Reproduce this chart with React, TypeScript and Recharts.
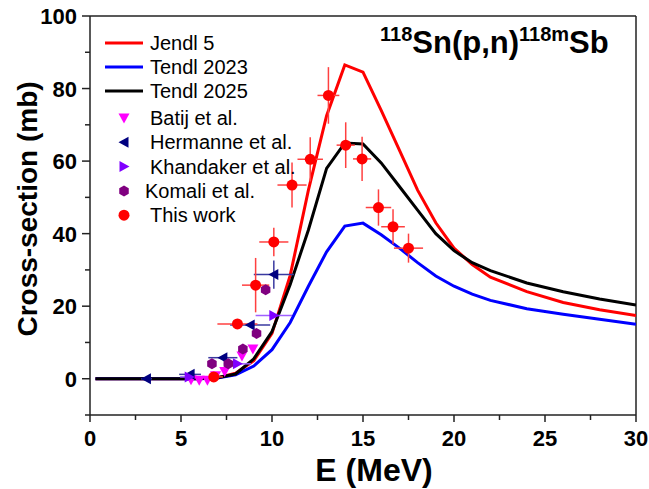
import React from "react";
import { ComposedChart, Line, Scatter, XAxis, YAxis, ErrorBar, ReferenceLine, Label } from "recharts";

const FONT = '"Liberation Sans", Arial, Helvetica, sans-serif';

// evaluated excitation functions (MeV -> mb)
const modelEnergy = [0.3, 1, 2, 3, 4, 5, 6, 7, 8, 9, 10, 11, 12, 13, 14, 15, 16, 17, 18, 19, 20, 21, 22, 24, 26, 28, 30];
const jendl5 = [0, 0, 0, 0, 0, 0, 0.05, 0.3, 1.5, 5, 12.5, 28.5, 52, 72.5, 86.5, 84.5, 74, 63, 52, 43, 36, 31.5, 28, 24, 21, 19, 17.4];
const tendl2023 = [0, 0, 0, 0, 0, 0, 0, 0.2, 1.1, 3.5, 8, 15.5, 25.5, 35, 42.1, 42.9, 39.7, 36, 32, 28.3, 25.5, 23.3, 21.6, 19.3, 17.8, 16.4, 15];
const tendl2025 = [0, 0, 0, 0, 0, 0, 0, 0.3, 1.3, 5.5, 13, 26, 41, 58, 65, 64.7, 59.5, 53, 46.5, 40, 35.3, 32, 29.8, 26.4, 24, 22, 20.3];

// experimental data
const batijE = [5.55, 6.0, 6.45, 6.9, 7.4, 8.35, 8.95];
const batijXS = [-0.3, -0.4, -0.4, 0.8, 2, 6.3, 8.2];

const hermanneE = [3.1, 5.5, 7.3, 8.8, 10.1];
const hermanneXS = [0, 1.2, 5.8, 14.8, 28.7];
const hermanneDE = [0.3, 0.6, 0.8, 1.1, 1.1];
const hermanneDXS = [0, 0, 0, 0, 3.9];

const khandakerE = [5.45, 8.1, 10.1];
const khandakerXS = [0.5, 4.1, 17.4];
const khandakerDE = [0.5, 0.75, 1.0];

const komaliE = [6.7, 7.6, 8.4, 9.15, 9.65];
const komaliXS = [4.1, 4.1, 8.2, 12.5, 24.5];

const thisWorkE = [6.8, 8.1, 9.1, 10.1, 11.1, 12.1, 13.1, 14.05, 14.95, 15.85, 16.65, 17.5];
const thisWorkXS = [0.5, 15.1, 25.8, 37.7, 53.4, 60.5, 78.1, 64.4, 60.6, 47.2, 41.9, 36];
const thisWorkDE = [0.5, 1.1, 0.75, 0.8, 0.8, 0.7, 0.6, 0.5, 0.5, 0.7, 0.65, 0.8];
const thisWorkDXS = [0.3, 1.0, 7.5, 3.9, 6.2, 6.1, 7.8, 6.3, 6.1, 5.0, 4.8, 4.0];

const xTicks = [0, 2.5, 5, 7.5, 10, 12.5, 15, 17.5, 20, 22.5, 25, 27.5, 30];
const yTicks = [-10, 0, 10, 20, 30, 40, 50, 60, 70, 80, 90, 100];

const curve = (ys: number[]) => modelEnergy.map((x, i) => ({ x, y: ys[i] }));
const points = (xs: number[], ys: number[], ex?: number[], ey?: number[]) =>
  xs.map((x, i) => ({ x, y: ys[i], ex: ex ? ex[i] : 0, ey: ey ? ey[i] : 0 }));

type Kind = "circle" | "down" | "left" | "right" | "hex";

function Marker({ cx, cy, kind, color }: { cx: number; cy: number; kind: Kind; color: string }) {
  if (cx == null || cy == null) return null;
  const r = 5.5;
  if (kind === "circle") return <circle cx={cx} cy={cy} r={r} fill={color} />;
  let pts = "";
  if (kind === "down") pts = `${cx - r},${cy - 4.5} ${cx + r},${cy - 4.5} ${cx},${cy + 5.5}`;
  if (kind === "left") pts = `${cx + 4.5},${cy - r} ${cx + 4.5},${cy + r} ${cx - 5.5},${cy}`;
  if (kind === "right") pts = `${cx - 4.5},${cy - r} ${cx - 4.5},${cy + r} ${cx + 5.5},${cy}`;
  if (kind === "hex")
    pts = [0, 1, 2, 3, 4, 5]
      .map((k) => {
        const a = (Math.PI / 3) * k + Math.PI / 6;
        return `${cx + r * Math.cos(a)},${cy + r * Math.sin(a)}`;
      })
      .join(" ");
  return <polygon points={pts} fill={color} />;
}

const shapeOf = (kind: Kind, color: string) => (p: any) => <Marker cx={p.cx} cy={p.cy} kind={kind} color={color} />;

function XTick(props: any) {
  const { x, y, payload } = props;
  const major = payload.value % 5 === 0;
  return (
    <g>
      <line x1={x} x2={x} y1={y} y2={y + (major ? 7 : 5)} stroke="#222" strokeWidth={1.5} />
      {major && (
        <text x={x} y={y + 31} textAnchor="middle" fontFamily={FONT} fontWeight="bold" fontSize={22} fill="#000">
          {payload.value}
        </text>
      )}
    </g>
  );
}

function YTick(props: any) {
  const { x, y, payload } = props;
  const major = payload.value % 20 === 0 && payload.value >= 0;
  return (
    <g>
      <line x1={x} x2={x - (major ? 8 : 5)} y1={y} y2={y} stroke="#222" strokeWidth={1.5} />
      {major && (
        <text x={x - 13} y={y + 8} textAnchor="end" fontFamily={FONT} fontWeight="bold" fontSize={22} fill="#000">
          {payload.value}
        </text>
      )}
    </g>
  );
}

const lineEntries = [
  { name: "Jendl 5", color: "#ff0000" },
  { name: "Tendl 2023", color: "#0000ff" },
  { name: "Tendl 2025", color: "#000000" },
];
const symbolEntries: { name: string; color: string; kind: Kind; dx: number }[] = [
  { name: "Batij et al.", color: "#ff00ff", kind: "down", dx: 0 },
  { name: "Hermanne et al.", color: "#000080", kind: "left", dx: 0 },
  { name: "Khandaker et al.", color: "#8000ff", kind: "right", dx: 0 },
  { name: "Komali et al.", color: "#800080", kind: "hex", dx: -5 },
  { name: "This work", color: "#ff0000", kind: "circle", dx: 0 },
];

export default function App() {
  return (
    <div style={{ position: "absolute", left: 0, top: 0, width: 649, height: 489, background: "#fff" }}>
      <ComposedChart width={649} height={489} margin={{ top: 16, right: 13, bottom: 0, left: 0 }}>
        <XAxis
          dataKey="x"
          type="number"
          domain={[0, 30]}
          ticks={xTicks}
          allowDataOverflow
          height={74}
          tickSize={0}
          tickMargin={0}
          tickLine={false}
          tick={<XTick />}
          axisLine={{ stroke: "#222", strokeWidth: 1.5 }}
        >
          <Label
            content={() => (
              <text x={374} y={481} textAnchor="middle" fontFamily={FONT} fontWeight="bold" fontSize={32} fill="#000">
                E (MeV)
              </text>
            )}
          />
        </XAxis>
        <YAxis
          type="number"
          domain={[-10, 100]}
          ticks={yTicks}
          allowDataOverflow
          width={90}
          tickSize={0}
          tickMargin={0}
          tickLine={false}
          tick={<YTick />}
          axisLine={{ stroke: "#222", strokeWidth: 1.5 }}
        >
          <Label
            content={() => (
              <text
                x={37}
                y={209}
                transform="rotate(-90 37 209)"
                textAnchor="middle"
                fontFamily={FONT}
                fontWeight="bold"
                fontSize={28}
                fill="#000"
              >
                Cross-section (mb)
              </text>
            )}
          />
        </YAxis>
        <ReferenceLine y={100} stroke="#222" strokeWidth={1.5} />
        <ReferenceLine x={30} stroke="#222" strokeWidth={1.5} />

        <Line data={curve(jendl5)} dataKey="y" type="linear" stroke="#ff0000" strokeWidth={3} dot={false} isAnimationActive={false} />
        <Line data={curve(tendl2023)} dataKey="y" type="linear" stroke="#0000ff" strokeWidth={3} dot={false} isAnimationActive={false} />
        <Line data={curve(tendl2025)} dataKey="y" type="linear" stroke="#000000" strokeWidth={3} dot={false} isAnimationActive={false} />

        <Scatter data={points(batijE, batijXS)} dataKey="y" shape={shapeOf("down", "#ff00ff")} isAnimationActive={false} />
        <Scatter
          data={points(hermanneE, hermanneXS, hermanneDE, hermanneDXS)}
          dataKey="y"
          shape={shapeOf("left", "#000080")}
          isAnimationActive={false}
        >
          <ErrorBar dataKey="ex" direction="x" width={0} stroke="#3a3aa0" strokeWidth={1.5} />
          <ErrorBar dataKey="ey" direction="y" width={0} stroke="#3a3aa0" strokeWidth={1.5} />
        </Scatter>
        <Scatter
          data={points(khandakerE, khandakerXS, khandakerDE)}
          dataKey="y"
          shape={shapeOf("right", "#8000ff")}
          isAnimationActive={false}
        >
          <ErrorBar dataKey="ex" direction="x" width={0} stroke="#a060ff" strokeWidth={1.5} />
        </Scatter>
        <Scatter data={points(komaliE, komaliXS)} dataKey="y" shape={shapeOf("hex", "#800080")} isAnimationActive={false} />
        <Scatter
          data={points(thisWorkE, thisWorkXS, thisWorkDE, thisWorkDXS)}
          dataKey="y"
          shape={shapeOf("circle", "#ff0000")}
          isAnimationActive={false}
        >
          <ErrorBar dataKey="ex" direction="x" width={0} stroke="#ff4040" strokeWidth={1.5} />
          <ErrorBar dataKey="ey" direction="y" width={0} stroke="#ff4040" strokeWidth={1.5} />
        </Scatter>
      </ComposedChart>

      <svg width={649} height={489} style={{ position: "absolute", left: 0, top: 0, pointerEvents: "none" }}>
        <text fontFamily={FONT} fontWeight="bold" fill="#000">
          <tspan x={380} y={41} fontSize={20}>118</tspan>
          <tspan y={53} fontSize={31}>Sn(p,n)</tspan>
          <tspan y={41} fontSize={20}>118m</tspan>
          <tspan y={53} fontSize={31}>Sb</tspan>
        </text>
        {lineEntries.map((e, i) => (
          <g key={e.name}>
            <line x1={105} x2={143} y1={43 + i * 24} y2={43 + i * 24} stroke={e.color} strokeWidth={3} />
            <text x={150} y={50 + i * 24} fontFamily={FONT} fontSize={20} fill="#000">
              {e.name}
            </text>
          </g>
        ))}
        {symbolEntries.map((e, i) => (
          <g key={e.name}>
            <Marker cx={124} cy={118 + i * 24.3} kind={e.kind} color={e.color} />
            <text x={150 + e.dx} y={125 + i * 24.3} fontFamily={FONT} fontSize={20} fill="#000">
              {e.name}
            </text>
          </g>
        ))}
      </svg>
    </div>
  );
}
